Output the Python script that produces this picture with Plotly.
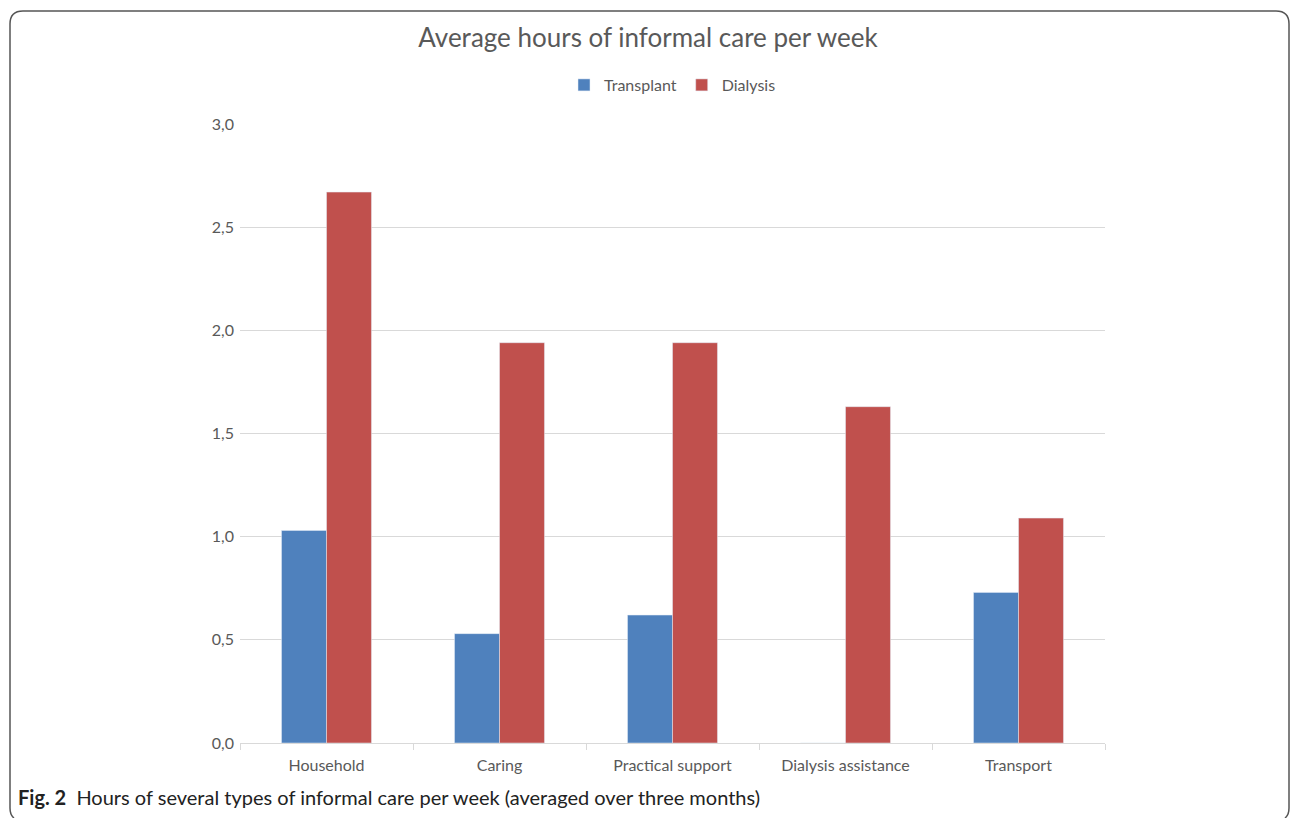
import plotly.graph_objects as go

categories = ["Household", "Caring", "Practical support", "Dialysis assistance", "Transport"]
transplant = [1.03, 0.53, 0.62, 0.0, 0.73]
dialysis = [2.67, 1.94, 1.94, 1.63, 1.09]
y_ticks = [0, 0.5, 1.0, 1.5, 2.0, 2.5, 3.0]
y_tick_labels = ["0,0", "0,5", "1,0", "1,5", "2,0", "2,5", "3,0"]

W, H = 1296, 818
L, R, T, B = 240, 191, 124, 75
PW, PH = W - L - R, H - T - B


def px(x):
    return (x - L) / PW


def py(y):
    return (H - B - y) / PH


fig = go.Figure()
fig.add_trace(go.Bar(name="Transplant", x=categories, y=transplant, marker_color="#4F81BD"))
fig.add_trace(go.Bar(name="Dialysis", x=categories, y=dialysis, marker_color="#C0504D"))

font = "Lato, 'Open Sans', sans-serif"
fig.update_layout(
    width=W, height=H,
    margin=dict(l=L, r=R, t=T, b=B),
    paper_bgcolor="white", plot_bgcolor="white",
    barmode="group", bargap=0.48, bargroupgap=0,
    font=dict(family=font, color="#595959", size=16),
    title=dict(text="Average hours of informal care per week", x=0.5, xanchor="center",
               y=1 - 38 / H, yanchor="middle", font=dict(size=26, color="#595959", family=font)),
    legend=dict(orientation="h", x=0.5, xanchor="center", y=py(85), yanchor="middle",
                font=dict(size=16, color="#595959"), traceorder="normal"),
    showlegend=True,
)
fig.update_yaxes(range=[0, 3.0], tickvals=y_ticks, ticktext=y_tick_labels, showgrid=True,
                 gridcolor="#D9D9D9", gridwidth=1, zeroline=False, showline=False,
                 ticks="", ticklabelstandoff=5, tickfont=dict(size=16, color="#595959"))
fig.update_xaxes(showline=True, linecolor="#D9D9D9", linewidth=1, ticks="outside", tickson="boundaries",
                 ticklen=6, tickcolor="#D9D9D9", showgrid=False, ticklabelstandoff=8,
                 tickfont=dict(size=16, color="#595959"))

# outer rounded border (open at the bottom, as in the cropped original)
x0, x1 = px(10), px(1289)
xr0, xr1 = px(23), px(1276)
xb0, xb1 = px(14), px(1285)
ytop, yr = py(11), py(24)
yb, ybe = py(808), py(818)
fig.add_shape(type="path", xref="paper", yref="paper", layer="below",
              path=(f"M {xb0},{ybe} Q {x0},{py(815)} {x0},{yb} L {x0},{yr} Q {x0},{ytop} {xr0},{ytop} "
                    f"L {xr1},{ytop} Q {x1},{ytop} {x1},{yr} L {x1},{yb} Q {x1},{py(815)} {xb1},{ybe}"),
              line=dict(color="#555555", width=1.5))
fig.add_annotation(xref="paper", yref="paper", x=px(16), y=py(797),
                   xanchor="left", yanchor="middle", showarrow=False, align="left",
                   text="<b>Fig. 2</b>  Hours of several types of informal care per week (averaged over three months)",
                   font=dict(size=20, color="#222222", family=font))

fig.write_html("out.html", config={"displayModeBar": False},
               post_script="document.body.style.margin='0';document.body.style.overflow='hidden';")
